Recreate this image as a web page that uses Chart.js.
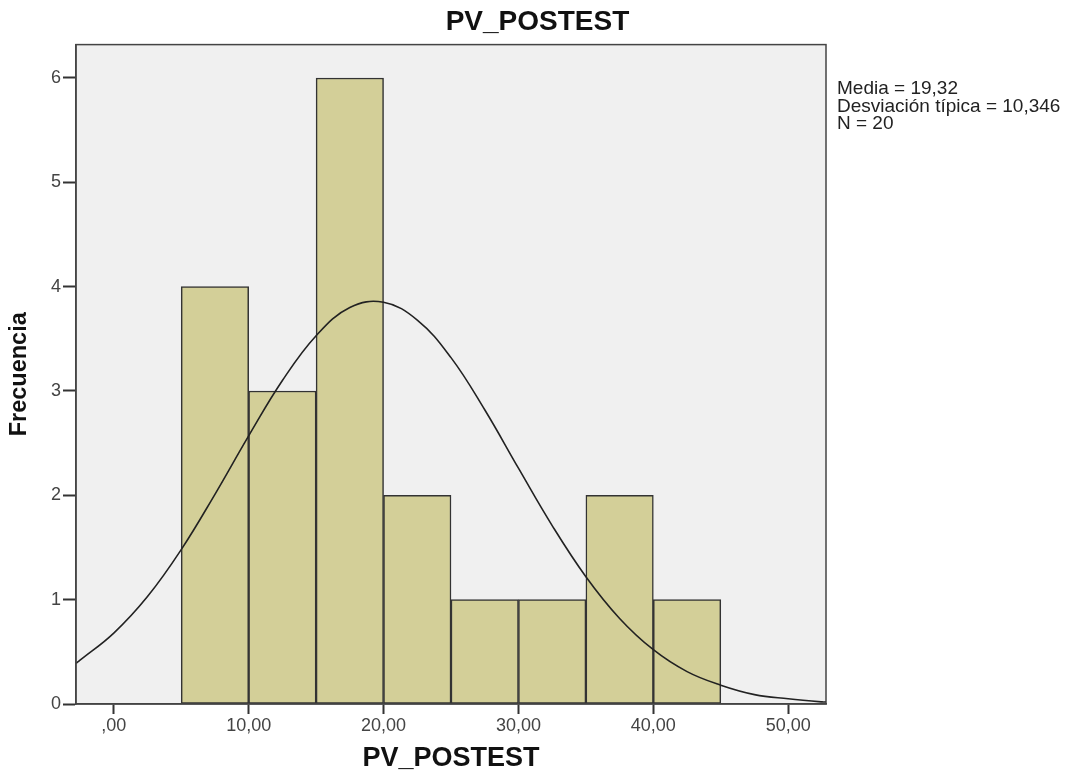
<!DOCTYPE html>
<html>
<head>
<meta charset="utf-8">
<title>PV_POSTEST</title>
<script src="https://cdn.jsdelivr.net/npm/chart.js@4.4.1/dist/chart.umd.min.js"></script>
<style>
  html, body { margin: 0; padding: 0; background: #fff; }
  #wrap { width: 1075px; height: 776px; }
</style>
</head>
<body>
<div id="wrap"><canvas id="histo"></canvas></div>
<script>
// datos del histograma
const binCenters = [7.5, 12.5, 17.5, 22.5, 27.5, 32.5, 37.5, 42.5];
const frequencies = [4, 3, 6, 2, 1, 1, 2, 1];

// curva normal superpuesta
const curveX = [-2.8, -2.5, 0, 2.5, 5, 7.5, 10, 12.5, 15, 17.5, 20, 22.5, 25, 27.5, 30, 32.5, 35, 37.5, 40, 42.5, 45, 47.5, 50, 52.5, 52.8];
const curveY = [0.39, 0.42, 0.68, 1.03, 1.48, 2.01, 2.57, 3.10, 3.53, 3.80, 3.85, 3.68, 3.32, 2.82, 2.26, 1.71, 1.22, 0.82, 0.52, 0.31, 0.18, 0.09, 0.05, 0.02, 0.02];

const xTicks = [0, 10, 20, 30, 40, 50];
const xTickLabels = [',00', '10,00', '20,00', '30,00', '40,00', '50,00'];
const yTicks = [0, 1, 2, 3, 4, 5, 6];
const statsLines = ['Media = 19,32', 'Desviación típica = 10,346', 'N = 20'];

const FONT = "'Liberation Sans', Arial, sans-serif";

// fondo gris del area y marco + texto de estadisticos
const plotFrame = {
  id: 'plotFrame',
  beforeDraw(chart) {
    const { ctx, chartArea: a } = chart;
    ctx.save();
    ctx.fillStyle = '#f0f0f0';
    ctx.fillRect(a.left, a.top, a.right - a.left, a.bottom - a.top);
    ctx.restore();
  },
  afterDraw(chart) {
    const { ctx, chartArea: a } = chart;
    ctx.save();
    ctx.strokeStyle = '#444';
    ctx.lineWidth = 1.5;
    ctx.strokeRect(a.left, a.top, a.right - a.left, a.bottom - a.top);
    ctx.fillStyle = '#222';
    ctx.font = "19px " + FONT;
    ctx.textBaseline = 'middle';
    statsLines.forEach((t, i) => ctx.fillText(t, a.right + 11, 89 + i * 17.5));
    ctx.restore();
  }
};

const ctx = document.getElementById('histo').getContext('2d');
const chart = new Chart(ctx, {
  type: 'bar',
  data: {
    datasets: [{
      type: 'line',
      data: curveX.map((x, i) => ({ x: x, y: curveY[i] })),
      borderColor: '#222',
      borderWidth: 1.6,
      pointRadius: 0,
      tension: 0.4,
      fill: false,
      order: 0
    }, {
      label: 'Frecuencia',
      data: binCenters.map((x, i) => ({ x: x, y: frequencies[i] })),
      backgroundColor: '#d3cf98',
      borderColor: '#333',
      borderWidth: 1.5,
      borderSkipped: false,
      barPercentage: 1,
      categoryPercentage: 1,
      order: 1
    }]
  },
  options: {
    responsive: true,
    maintainAspectRatio: false,
    animation: false,
    layout: { padding: 0 },
    plugins: {
      legend: { display: false },
      tooltip: { enabled: false },
      title: {
        display: true,
        text: 'PV_POSTEST',
        color: '#111',
        font: { family: FONT, size: 28, weight: 'bold' },
        padding: { top: 5, bottom: 6 }
      }
    },
    scales: {
      x: {
        type: 'linear',
        min: -2.8,
        max: 52.8,
        offset: false,
        afterBuildTicks(s) { s.ticks = xTicks.map(v => ({ value: v })); },
        afterFit(s) { s.height = 72; },
        ticks: {
          color: '#444',
          font: { family: FONT, size: 18 },
          padding: 1,
          callback: (v) => xTickLabels[xTicks.indexOf(v)]
        },
        grid: { offset: false, drawOnChartArea: false, tickLength: 10, tickWidth: 2, color: '#333' },
        border: { display: true, color: '#444', width: 1.5 },
        title: {
          display: true,
          text: 'PV_POSTEST',
          color: '#111',
          font: { family: FONT, size: 27, weight: 'bold' },
          padding: { top: 0, bottom: 1 }
        }
      },
      y: {
        min: 0,
        max: 6.32,
        afterBuildTicks(s) { s.ticks = yTicks.map(v => ({ value: v })); },
        afterFit(s) { s.width = 76; },
        ticks: {
          color: '#444',
          font: { family: FONT, size: 18 },
          padding: 2
        },
        grid: { drawOnChartArea: false, tickLength: 13, tickWidth: 2, color: '#333' },
        border: { display: true, color: '#444', width: 1.5 },
        title: {
          display: true,
          text: 'Frecuencia',
          color: '#111',
          font: { family: FONT, size: 23.5, weight: 'bold' },
          padding: { top: 5, bottom: 0 }
        }
      },
      // espacio a la derecha para los estadisticos
      yRight: {
        position: 'right',
        display: true,
        afterFit(s) { s.width = 249; },
        ticks: { display: false },
        grid: { display: false },
        border: { display: false }
      }
    }
  },
  plugins: [plotFrame]
});
</script>
</body>
</html>
